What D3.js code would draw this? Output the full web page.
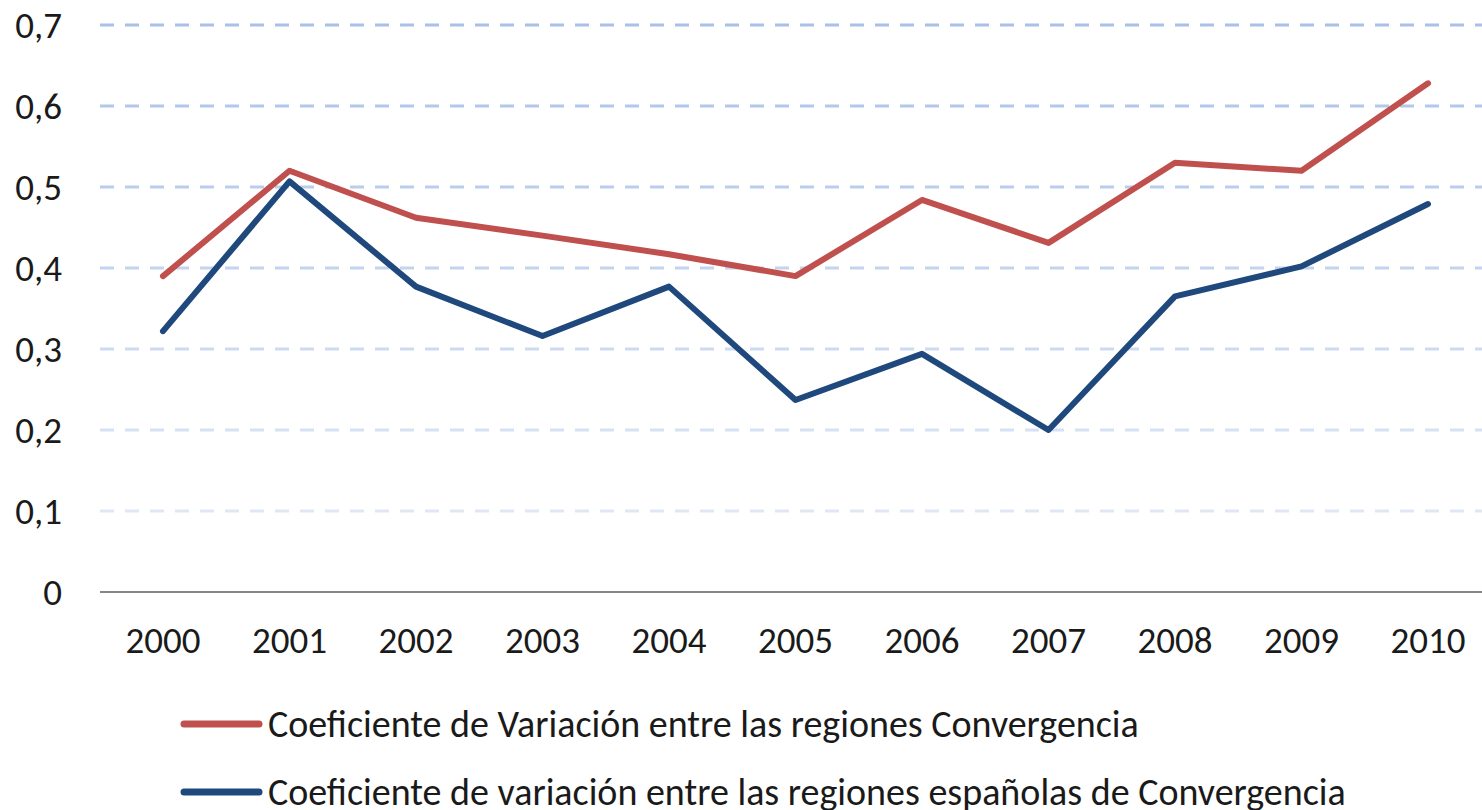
<!DOCTYPE html>
<meta charset="utf-8">
<html>
<head>
  <style>
    body { margin: 0; background: #fff; }
    text { font-family: "Carlito", "Lato", "Open Sans", sans-serif; fill: #1a1a1a; }
  </style>
  <script src="https://d3js.org/d3.v7.min.js"></script>
</head>
<body>
<svg width="1482" height="810"></svg>
<script>
  var years = ["2000","2001","2002","2003","2004","2005","2006","2007","2008","2009","2010"];
  var cvConvergencia = [0.390, 0.520, 0.462, 0.440, 0.417, 0.390, 0.484, 0.431, 0.530, 0.520, 0.628];
  var cvEspanolas   = [0.322, 0.507, 0.377, 0.316, 0.377, 0.237, 0.294, 0.200, 0.365, 0.402, 0.479];
  var yTicks = [0, 0.1, 0.2, 0.3, 0.4, 0.5, 0.6, 0.7];
  var seriesNames = ["Coeficiente de Variación entre las regiones Convergencia",
                     "Coeficiente de variación entre las regiones españolas de Convergencia"];
  var seriesColors = ["#c0504d", "#1f497d"];

  var svg = d3.select("svg");
  var plotLeft = 100, plotRight = 1482, plotTop = 25, plotBottom = 592;

  var x = d3.scalePoint().domain(years).range([163, 1428]);
  var y = d3.scaleLinear().domain([0, 0.7]).range([plotBottom, plotTop]);

  // gridlines fade from top to bottom
  var gridColor = d3.scaleLinear().domain([0.1, 0.7]).range(["#dfe7f5", "#a9c0e8"]);
  svg.append("g").selectAll("line")
     .data(yTicks.filter(function(d) { return d > 0; }))
     .enter().append("line")
     .attr("x1", plotLeft).attr("x2", plotRight)
     .attr("y1", function(d) { return y(d); })
     .attr("y2", function(d) { return y(d); })
     .attr("stroke", function(d) { return gridColor(d); })
     .attr("stroke-width", 3)
     .attr("stroke-dasharray", "14,11");

  // x axis line
  svg.append("line")
     .attr("x1", plotLeft).attr("x2", plotRight)
     .attr("y1", y(0)).attr("y2", y(0))
     .attr("stroke", "#868686").attr("stroke-width", 2);

  // y labels
  svg.append("g").selectAll("text")
     .data(yTicks)
     .enter().append("text")
     .attr("x", 62)
     .attr("y", function(d) { return y(d); })
     .attr("dy", "0.35em")
     .attr("text-anchor", "end")
     .attr("font-size", "37px")
     .text(function(d) { return d === 0 ? "0" : d.toFixed(1).replace(".", ","); });

  // x labels
  svg.append("g").selectAll("text")
     .data(years)
     .enter().append("text")
     .attr("x", function(d) { return x(d); })
     .attr("y", 640)
     .attr("dy", "0.35em")
     .attr("text-anchor", "middle")
     .attr("font-size", "37px")
     .text(function(d) { return d; });

  var line = d3.line()
     .x(function(d, i) { return x(years[i]); })
     .y(function(d) { return y(d); });

  [cvConvergencia, cvEspanolas].forEach(function(s, k) {
      svg.append("path")
         .datum(s)
         .attr("d", line)
         .attr("fill", "none")
         .attr("stroke", seriesColors[k])
         .attr("stroke-width", 6)
         .attr("stroke-linejoin", "round")
         .attr("stroke-linecap", "round");
  });

  // legend
  var legendY = [724, 792];
  seriesNames.forEach(function(name, k) {
      svg.append("line")
         .attr("x1", 184).attr("x2", 259)
         .attr("y1", legendY[k]).attr("y2", legendY[k])
         .attr("stroke", seriesColors[k])
         .attr("stroke-width", 7)
         .attr("stroke-linecap", "round");
      svg.append("text")
         .attr("x", 268)
         .attr("y", legendY[k])
         .attr("dy", "0.35em")
         .attr("font-size", "38px")
         .text(name);
  });
</script>
</body>
</html>
